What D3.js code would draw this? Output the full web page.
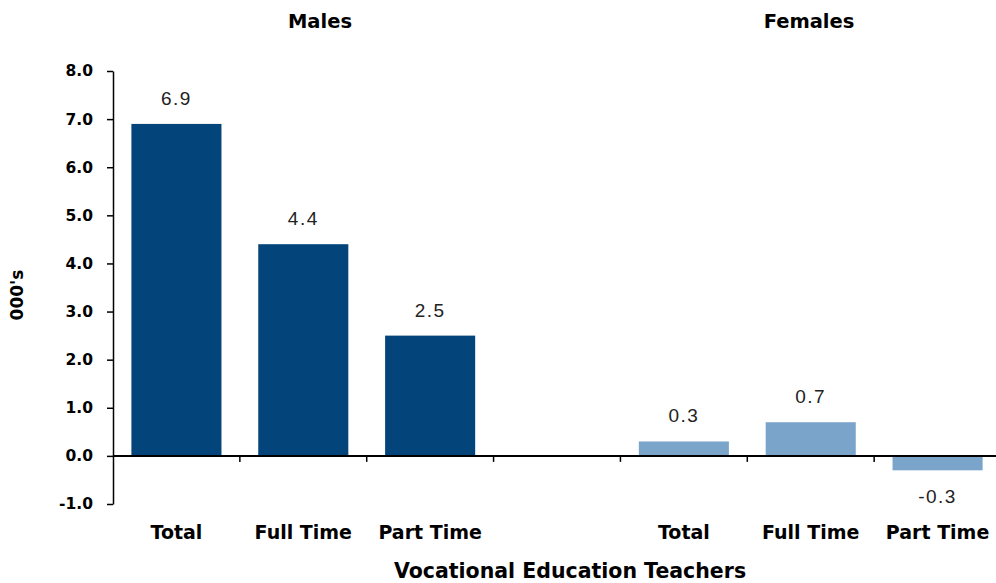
<!DOCTYPE html>
<html>
<head>
<meta charset="utf-8">
<script src="https://cdn.jsdelivr.net/npm/d3@7"></script>
<style>
  html, body { margin: 0; padding: 0; background: #fff; }
  svg { display: block; }
  .bold { font-family: "DejaVu Sans", sans-serif; font-weight: bold; fill: #000; }
  .val { font-family: "Liberation Sans", Arial, sans-serif; fill: #222; }
</style>
</head>
<body>
<svg id="chart" width="996" height="583"></svg>
<script>
// Change in vocational education teachers ('000), by sex and work status
const groups = ["Males", "Females"];
const categories = ["Total", "Full Time", "Part Time"];
const maleValues = [6.9, 4.4, 2.5];
const femaleValues = [0.3, 0.7, -0.3];
const yTicks = [-1, 0, 1, 2, 3, 4, 5, 6, 7, 8];
const colors = { Males: "#03457a", Females: "#7ba4ca" };

// Seven slots: three male bars, an empty gap, three female bars
const slots = [
  ...categories.map((c, i) => ({ key: "m" + i, group: "Males", label: c, value: maleValues[i] })),
  { key: "gap", group: null, label: "", value: null },
  ...categories.map((c, i) => ({ key: "f" + i, group: "Females", label: c, value: femaleValues[i] }))
];

const fmt = d3.formatLocale({ decimal: ".", thousands: ",", grouping: [3], currency: ["", ""], minus: "-" }).format(".1f");

const svg = d3.select("#chart");
const plotLeft = 113, plotRight = 1001, plotTop = 71, plotBottom = 504;

const x = d3.scaleBand().domain(slots.map(d => d.key)).range([plotLeft, plotRight]).paddingInner(0.29).paddingOuter(0.145);
const y = d3.scaleLinear().domain([-1, 8]).range([plotBottom, plotTop]);

// Bars
svg.append("g").selectAll("rect")
  .data(slots.filter(d => d.value !== null))
  .join("rect")
  .attr("x", d => x(d.key))
  .attr("width", x.bandwidth())
  .attr("y", d => y(Math.max(0, d.value)))
  .attr("height", d => Math.abs(y(d.value) - y(0)))
  .attr("fill", d => colors[d.group]);

// Value labels
svg.append("g").selectAll("text")
  .data(slots.filter(d => d.value !== null))
  .join("text")
  .attr("class", "val")
  .attr("x", d => x(d.key) + x.bandwidth() / 2)
  .attr("y", d => d.value >= 0 ? y(d.value) - 19 : y(d.value) + 33)
  .attr("text-anchor", "middle")
  .style("font-size", "19px")
  .style("letter-spacing", "1.5px")
  .text(d => fmt(d.value));

// Y axis
const yAxis = svg.append("g")
  .attr("transform", `translate(${plotLeft},0)`)
  .call(d3.axisLeft(y).tickValues(yTicks).tickFormat(fmt).tickSize(6).tickSizeOuter(0));
yAxis.attr("font-family", null).attr("font-size", null);
yAxis.select(".domain").attr("stroke", "#000").attr("stroke-width", 1.5);
yAxis.selectAll(".tick line").attr("stroke", "#000").attr("stroke-width", 1.5);
yAxis.selectAll(".tick text")
  .attr("class", "bold")
  .attr("x", -20)
  .attr("fill", null)
  .style("font-size", "15.5px");

// Zero line with category-boundary ticks
const zero = svg.append("g").attr("transform", `translate(0,${y(0)})`);
zero.append("line").attr("x1", plotLeft).attr("x2", 996).attr("stroke", "#000").attr("stroke-width", 2);
const boundaries = slots.slice(1).map(d => x(d.key) - x.step() * x.paddingInner() / 2);
zero.selectAll("line.tick").data(boundaries).join("line")
  .attr("class", "tick")
  .attr("x1", d => d).attr("x2", d => d)
  .attr("y1", 0).attr("y2", 6)
  .attr("stroke", "#000").attr("stroke-width", 1.5);

// Category labels
svg.append("g").selectAll("text")
  .data(slots.filter(d => d.label))
  .join("text")
  .attr("class", "bold")
  .attr("x", d => x(d.key) + x.bandwidth() / 2)
  .attr("y", 539)
  .attr("text-anchor", "middle")
  .style("font-size", "19px")
  .text(d => d.label);

// Group headings
const headingX = { Males: 320, Females: 809 };
svg.append("g").selectAll("text")
  .data(groups)
  .join("text")
  .attr("class", "bold")
  .attr("x", d => headingX[d])
  .attr("y", 28)
  .attr("text-anchor", "middle")
  .style("font-size", "19.5px")
  .text(d => d);

// Axis titles
svg.append("text")
  .attr("class", "bold")
  .attr("x", 570).attr("y", 578)
  .attr("text-anchor", "middle")
  .style("font-size", "20.5px")
  .text("Vocational Education Teachers");

svg.append("text")
  .attr("class", "bold")
  .attr("transform", "translate(23,295) rotate(-90)")
  .attr("text-anchor", "middle")
  .style("font-size", "17px")
  .text("000's");
</script>
</body>
</html>
